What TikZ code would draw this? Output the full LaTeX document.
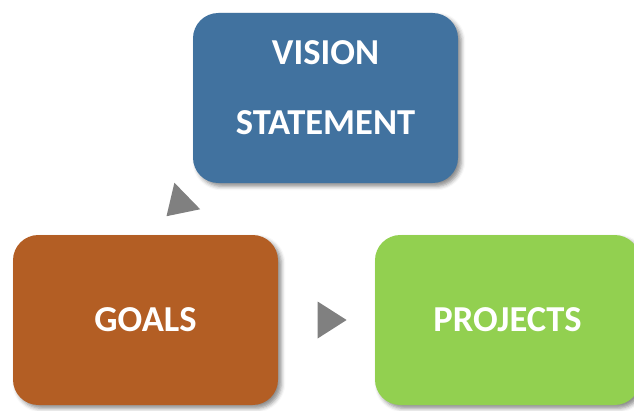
\documentclass[tikz,border=0pt]{standalone}
\usepackage{fontspec}
\setmainfont{Carlito}
\usetikzlibrary{shapes.geometric,shadows.blur}

\definecolor{visionblue}{RGB}{65,114,159}
\definecolor{goalsbrown}{RGB}{179,94,36}
\definecolor{projgreen}{RGB}{146,208,80}
\definecolor{pointergray}{RGB}{128,128,128}

\tikzset{
  stagebox/.style={rectangle, rounded corners=19pt, minimum width=198.75pt, minimum height=127.5pt,
    inner sep=0pt, text=white, align=center, font=\fontsize{27.4}{52.5}\selectfont\bfseries,
    blur shadow={shadow xshift=2.5pt, shadow yshift=-2.5pt, shadow blur radius=3pt, shadow opacity=45}},
  pointer/.style={isosceles triangle, isosceles triangle stretches, minimum width=27.75pt,
    minimum height=21.75pt, inner sep=0pt, fill=pointergray}
}

\begin{document}
\begin{tikzpicture}[x=0.75pt,y=0.75pt,yscale=-1,xscale=1]
    \clip (0,0) rectangle (634,410); %diagram is 634 wide, 410 high

    %Rounded Rect [vision]
    \node[stagebox, fill=visionblue] (vision) at (325.5,98) {VISION\\STATEMENT\\[-37.5pt]{}};
    %Rounded Rect [goals]
    \node[stagebox, fill=goalsbrown] (goals) at (145.5,320) {GOALS};
    %Rounded Rect [projects]
    \node[stagebox, fill=projgreen] (projects) at (507.5,320) {PROJECTS};

    %Triangle [vision to goals]
    \node[pointer, anchor=apex, rotate=-135.8] (upperpointer) at (166,216.7) {};
    %Triangle [goals to projects]
    \node[pointer, anchor=apex] (lowerpointer) at (347.3,320) {};
\end{tikzpicture}
\end{document}
